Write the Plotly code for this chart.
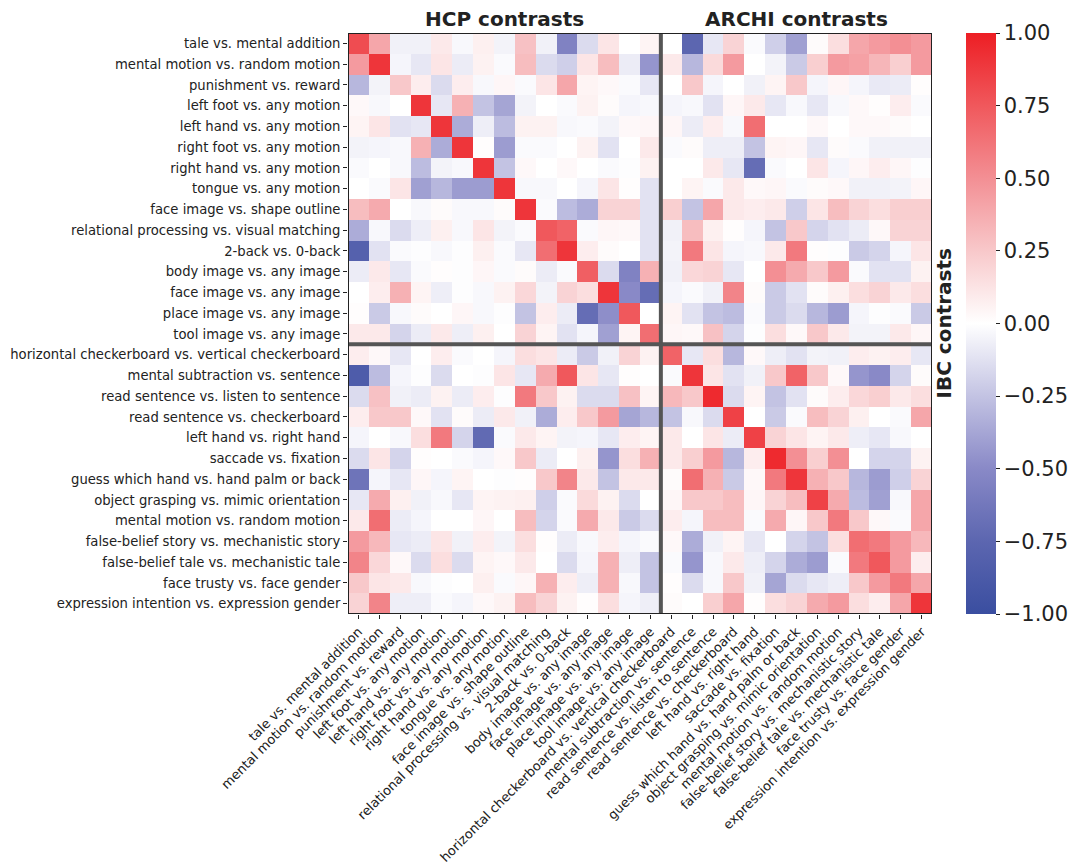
import plotly.graph_objects as go

contrasts = [
    "tale vs. mental addition", "mental motion vs. random motion", "punishment vs. reward",
    "left foot vs. any motion", "left hand vs. any motion", "right foot vs. any motion",
    "right hand vs. any motion", "tongue vs. any motion", "face image vs. shape outline",
    "relational processing vs. visual matching", "2-back vs. 0-back", "body image vs. any image",
    "face image vs. any image", "place image vs. any image", "tool image vs. any image",
    "horizontal checkerboard vs. vertical checkerboard", "mental subtraction vs. sentence",
    "read sentence vs. listen to sentence", "read sentence vs. checkerboard",
    "left hand vs. right hand", "saccade vs. fixation", "guess which hand vs. hand palm or back",
    "object grasping vs. mimic orientation", "mental motion vs. random motion",
    "false-belief story vs. mechanistic story", "false-belief tale vs. mechanistic tale",
    "face trusty vs. face gender", "expression intention vs. expression gender",
]

hcp_rows = [
    [0.8,0.4,-0.06,-0.06,0.1,-0.03,0.07,-0.05,0.28,-0.06,-0.55,-0.15,0.12,0,0.05,0,-0.75,-0.1,0.2,-0.02,-0.2,-0.4,0.02,0.15,0.4,0.45,0.5,0.45],
    [0.45,0.9,-0.04,-0.1,0.12,-0.08,0.06,-0.02,0.3,-0.15,-0.2,0.12,0.3,-0.08,-0.45,0.1,-0.3,0.17,0.45,0,-0.05,-0.22,0.22,0.45,0.42,0.33,0.22,0.45],
    [-0.3,-0.05,0.25,0.08,-0.15,0.08,-0.03,0.04,-0.02,0.12,0.4,0.05,0.03,-0.02,-0.1,0,0.25,-0.04,0,-0.06,0.05,0.25,-0.04,0.04,-0.04,-0.09,-0.08,0.01],
    [0.03,-0.03,0,0.9,-0.1,0.35,-0.25,-0.38,-0.05,0,-0.02,0.06,0.02,-0.04,-0.03,-0.04,-0.03,-0.12,0.04,0.1,-0.1,-0.03,-0.1,-0.03,0.03,0.01,0.08,-0.02],
    [0.05,0.12,-0.12,-0.1,0.9,-0.35,-0.07,-0.28,0.06,0.06,-0.03,-0.02,-0.05,0.03,0.04,0.04,-0.08,0.08,-0.03,0.65,0,0,0.03,0,0.03,0.03,0.02,0],
    [-0.05,-0.04,-0.03,0.35,-0.35,0.9,0.01,-0.42,-0.02,-0.02,0,0.06,-0.12,0,0.1,-0.02,0.02,-0.07,-0.07,-0.25,0.05,0.04,-0.1,0.02,-0.02,-0.06,-0.06,-0.06],
    [-0.02,0,-0.03,-0.28,-0.05,-0.03,0.9,-0.25,0.03,0,0.03,0,-0.02,-0.01,0.06,0,0,0.1,-0.1,-0.7,-0.02,0,0.12,-0.04,0.04,0.08,0.04,-0.01],
    [0,-0.02,0.12,-0.4,-0.3,-0.42,-0.42,0.9,-0.03,-0.03,0,-0.04,0.12,0.01,-0.12,0,0.05,-0.02,0.1,0.03,0.04,-0.02,0.02,0.03,-0.06,-0.06,-0.05,0.04],
    [0.3,0.38,0,-0.03,0.02,-0.03,-0.03,0.02,0.9,-0.02,-0.28,-0.35,0.2,0.2,-0.12,0.22,-0.25,0.4,0.1,0.08,0.1,-0.2,0.12,0.3,0.2,0.15,0.22,0.22],
    [-0.35,-0.03,-0.15,-0.07,0.07,-0.03,0.12,-0.05,-0.02,0.75,0.7,-0.02,0.04,0.03,-0.12,-0.06,0.3,0.07,0.01,-0.04,-0.25,0.25,-0.18,-0.12,-0.08,0.03,0.2,0.2],
    [-0.8,-0.12,-0.02,-0.01,-0.03,-0.01,0.07,-0.02,-0.1,0.65,0.9,0.08,0.02,0,-0.12,-0.05,0.6,0.12,-0.04,-0.03,0.1,0.6,0.01,-0.01,-0.22,-0.18,-0.04,0.12],
    [-0.08,0.1,-0.1,-0.02,0.01,-0.01,0.04,-0.02,0.02,-0.08,-0.02,0.72,-0.15,-0.55,0.35,-0.06,0.18,0.2,-0.1,0,0.5,0.38,0.25,0.45,-0.02,-0.12,-0.12,0.06],
    [0,0.08,0.35,0.05,-0.07,-0.01,-0.03,0.06,0.18,-0.05,0.2,0.15,0.9,-0.5,-0.7,-0.04,-0.02,-0.06,0.55,0.02,-0.22,-0.12,0.02,0.07,0.15,0.2,0.1,0.15],
    [0.01,-0.22,-0.03,0.02,0,0.04,-0.03,-0.01,-0.25,0.08,-0.08,-0.7,-0.48,0.75,0,0.05,-0.12,-0.25,-0.28,-0.02,-0.22,-0.15,-0.3,-0.42,-0.04,-0.01,-0.02,-0.22],
    [0.1,0.1,-0.18,-0.08,0.1,-0.07,0.07,0,0.2,0.05,-0.12,-0.04,-0.4,0.05,0.65,0.04,0.03,0.28,-0.18,-0.01,0.15,0.03,0.25,0.1,-0.05,-0.05,0.1,0.04],
]

archi_rows = [
    [0.08,0.03,-0.1,0,0.08,-0.02,0,-0.04,0.15,0.12,-0.08,-0.22,-0.06,0.2,0.06,0.7,-0.1,0.15,-0.3,0.03,-0.07,-0.12,-0.05,-0.06,0.08,0.06,0.08,-0.1],
    [-0.85,-0.28,-0.04,-0.01,-0.15,0,-0.01,0.12,-0.1,0.38,0.75,0.12,-0.1,0.01,0,-0.02,0.9,0.12,-0.12,-0.06,0.25,0.7,0.25,0.03,-0.45,-0.5,-0.18,0.02],
    [-0.15,0.28,-0.06,-0.08,0.06,-0.08,0.08,-0.01,0.6,0.25,0.06,-0.15,-0.15,0.28,0.05,0.32,0.25,0.95,-0.15,0.05,-0.25,-0.12,0.02,0.08,0.18,0.22,0.1,0.15],
    [0.08,0.25,0.25,0.03,-0.12,0.02,-0.08,0.1,-0.06,-0.35,0.08,0.25,0.45,-0.38,-0.3,-0.25,-0.03,-0.15,0.85,0,-0.22,-0.02,0.3,0.2,0.07,0,-0.02,0.4],
    [-0.04,0,-0.03,0.15,0.6,-0.18,-0.72,-0.02,0.1,0.05,-0.05,-0.04,-0.1,0.08,0.05,0.1,0,0.12,-0.08,0.85,0.2,0.12,0.05,0.1,-0.07,-0.1,-0.03,0],
    [-0.15,0.12,-0.18,0.01,0,-0.02,-0.04,0.03,0.25,-0.08,0,0.07,-0.45,0.15,0.35,0.1,0.22,0.45,-0.3,0.08,0.95,0.5,0.22,0.5,0,-0.18,-0.18,0.06],
    [-0.65,-0.04,-0.1,0.04,-0.04,0.05,0,-0.01,0.01,0.25,0.55,0.1,-0.25,0.1,0.1,0.02,0.65,0.35,-0.22,0.03,0.6,0.9,0.35,0.25,-0.3,-0.42,-0.2,0.2],
    [-0.1,0.38,0.07,-0.06,-0.03,-0.1,0.05,0.06,0.07,-0.2,-0.02,0.17,0.06,-0.15,0,0.04,0.25,0.25,0.3,0.04,0.2,0.3,0.85,0.38,-0.28,-0.4,-0.03,0.4],
    [0.1,0.65,-0.08,-0.04,0,0,0.04,0,0.3,-0.18,-0.02,0.38,0.1,-0.22,-0.15,0.08,-0.04,0.3,0.3,-0.02,0.38,0.04,0.25,0.6,0.25,0.03,-0.02,0.4],
    [0.45,0.32,-0.1,-0.08,0.12,-0.06,0.08,-0.05,0.15,0.01,-0.08,-0.03,0.08,-0.04,-0.02,0.03,-0.35,-0.06,0.05,-0.1,0,-0.18,-0.25,0.15,0.65,0.6,0.45,0.32],
    [0.55,0.18,0.03,-0.15,0.15,-0.15,0.05,0.03,0.1,0,-0.15,-0.04,0.35,-0.07,-0.25,-0.02,-0.45,-0.03,0.1,-0.07,-0.18,-0.35,-0.42,-0.02,0.6,0.75,0.45,0.08],
    [0.25,0.12,0.1,-0.03,-0.01,0,0.07,-0.02,0.04,0.35,0.08,-0.07,0.35,-0.03,-0.25,0.01,-0.15,-0.03,0.25,-0.06,-0.38,-0.15,-0.1,-0.07,0.25,0.45,0.6,0.4],
    [0.2,0.55,-0.07,-0.07,-0.02,-0.04,0.03,0.06,0.3,0.2,0.06,0.01,0.15,-0.04,-0.07,0.02,0,0.22,0.4,0.01,0.15,0.2,0.38,0.45,0.15,0.08,0.4,0.9],
]

group_titles = ["HCP contrasts", "ARCHI contrasts"]
colorbar_ticks = [-1.0, -0.75, -0.5, -0.25, 0.0, 0.25, 0.5, 0.75, 1.0]

z = hcp_rows + archi_rows
n = len(contrasts)
n_hcp = len(hcp_rows)
idx = list(range(n))

colorscale = [
    [0.0, "rgb(58,78,160)"],
    [0.125, "rgb(92,102,176)"],
    [0.25, "rgb(137,137,199)"],
    [0.375, "rgb(195,195,227)"],
    [0.5, "rgb(255,255,255)"],
    [0.625, "rgb(248,200,202)"],
    [0.75, "rgb(243,143,148)"],
    [0.875, "rgb(240,88,92)"],
    [1.0, "rgb(237,30,36)"],
]

font = "DejaVu Sans"
L, R, T, B = 348, 141, 33, 251
plot_w = 1073 - L - R

fig = go.Figure(go.Heatmap(
    z=z, x=idx, y=idx, zmin=-1, zmax=1, colorscale=colorscale,
    colorbar=dict(
        x=(966 - L) / plot_w, xanchor="left", xref="paper", xpad=0, ypad=0,
        y=0.5, yanchor="middle", len=1.0, lenmode="fraction",
        thickness=30, outlinewidth=0, ticks="outside", ticklen=4, tickwidth=1.2, tickcolor="#222",
        tickvals=colorbar_ticks, tickformat=".2f",
        tickfont=dict(family=font, size=21, color="#222"),
    ),
))

fig.update_xaxes(
    range=[-0.5, n - 0.5], tickvals=idx, ticktext=contrasts, tickangle=-45, automargin=False,
    ticks="outside", ticklen=4, tickcolor="#222", showgrid=False, zeroline=False,
    tickfont=dict(family=font, size=13, color="#222"),
)
fig.update_yaxes(
    range=[n - 0.5, -0.5], tickvals=idx, ticktext=contrasts, automargin=False,
    ticks="outside", ticklen=4, tickcolor="#222", showgrid=False, zeroline=False,
    tickfont=dict(family=font, size=13.2, color="#222"),
)

sep = n_hcp - 0.5
fig.add_shape(type="line", x0=sep, x1=sep, y0=-0.5, y1=n - 0.5, line=dict(color="#555555", width=4))
fig.add_shape(type="line", x0=-0.5, x1=n - 0.5, y0=sep, y1=sep, line=dict(color="#555555", width=4))
fig.add_shape(type="rect", x0=-0.5, x1=n - 0.5, y0=-0.5, y1=n - 0.5, line=dict(color="#222222", width=2))

fig.add_annotation(x=(n_hcp - 1) / 2, y=1, xref="x", yref="paper", yanchor="bottom", yshift=0,
                   text="<b>" + group_titles[0] + "</b>", showarrow=False,
                   font=dict(family=font, size=20, color="#222"))
fig.add_annotation(x=(n_hcp + n - 1) / 2, y=1, xref="x", yref="paper", yanchor="bottom", yshift=0,
                   text="<b>" + group_titles[1] + "</b>", showarrow=False,
                   font=dict(family=font, size=20, color="#222"))
fig.add_annotation(x=1.0, xshift=11, y=0.5, xref="paper", yref="paper", xanchor="center", yanchor="middle",
                   text="<b>IBC contrasts</b>", textangle=-90, showarrow=False,
                   font=dict(family=font, size=20, color="#222"))

fig.update_layout(
    width=1073, height=865,
    margin=dict(l=L, r=R, t=T, b=B, autoexpand=False),
    paper_bgcolor="white", plot_bgcolor="white",
    showlegend=False,
)

fig.write_html("out.html", config={"displayModeBar": False},
               post_script="document.body.style.margin='0';document.body.style.overflow='hidden';")
